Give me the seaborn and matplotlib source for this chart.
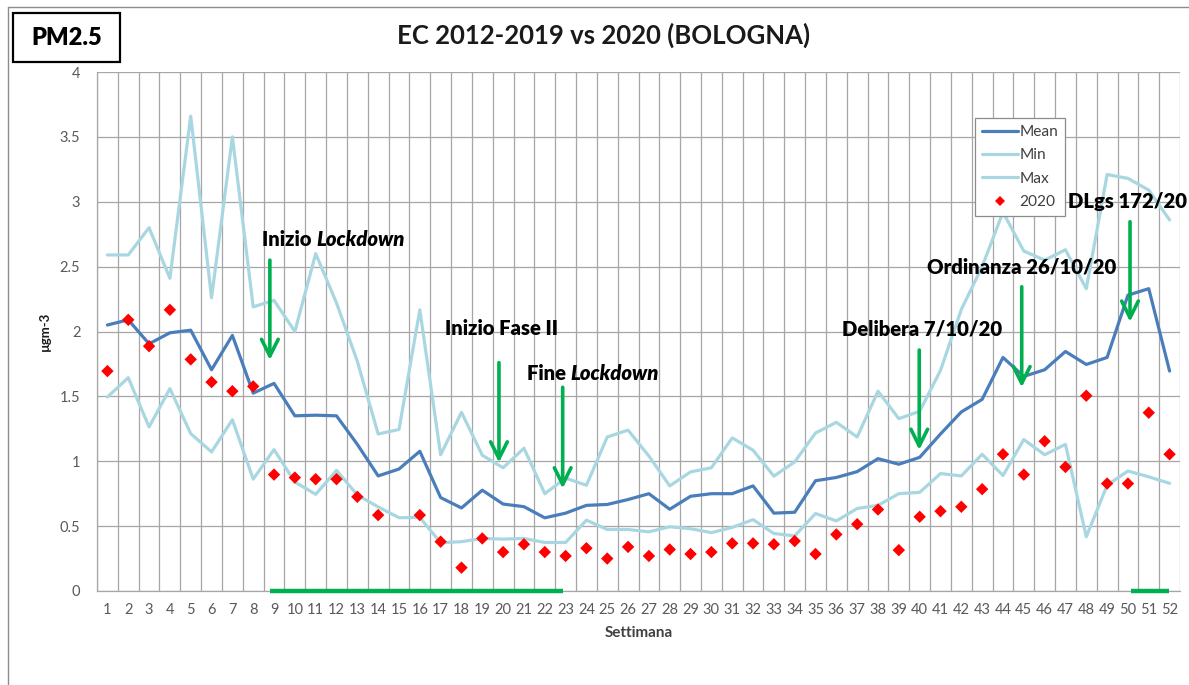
import numpy as np
import pandas as pd
import matplotlib
matplotlib.use("Agg")
import matplotlib.pyplot as plt
import seaborn as sns
from matplotlib.lines import Line2D
from matplotlib.patches import Rectangle

# ---------------- data ----------------
weeks = list(range(1, 53))
week_labels = [str(w) for w in weeks]

mean_vals = [2.05, 2.09, 1.905, 1.99, 2.01, 1.705, 1.97, 1.525, 1.60, 1.35,
             1.355, 1.35, 1.13, 0.887, 0.94, 1.077, 0.72, 0.64, 0.777, 0.67,
             0.65, 0.564, 0.60, 0.66, 0.667, 0.705, 0.75, 0.63, 0.73, 0.75,
             0.75, 0.81, 0.60, 0.607, 0.85, 0.875, 0.92, 1.02, 0.977, 1.03,
             1.21, 1.38, 1.477, 1.80, 1.654, 1.705, 1.846, 1.746, 1.80, 2.28,
             2.33, 1.695]

min_vals = [1.495, 1.644, 1.264, 1.56, 1.213, 1.072, 1.32, 0.862, 1.09, 0.84,
            0.745, 0.93, 0.74, 0.648, 0.565, 0.567, 0.372, 0.38, 0.405, 0.40,
            0.405, 0.374, 0.374, 0.546, 0.474, 0.474, 0.456, 0.495, 0.48, 0.45,
            0.49, 0.55, 0.443, 0.425, 0.597, 0.54, 0.636, 0.66, 0.75, 0.76,
            0.905, 0.887, 1.054, 0.89, 1.167, 1.05, 1.13, 0.418, 0.815, 0.925,
            0.88, 0.83]

max_vals = [2.59, 2.59, 2.80, 2.41, 3.66, 2.26, 3.50, 2.19, 2.24, 2.00,
            2.60, 2.22, 1.77, 1.21, 1.245, 2.167, 1.05, 1.377, 1.046, 0.95,
            1.10, 0.75, 0.87, 0.815, 1.187, 1.24, 1.04, 0.81, 0.918, 0.95,
            1.18, 1.085, 0.885, 0.995, 1.218, 1.30, 1.187, 1.54, 1.328, 1.385,
            1.70, 2.17, 2.50, 2.92, 2.62, 2.55, 2.63, 2.33, 3.21, 3.18,
            3.09, 2.86]

vals_2020 = [1.695, 2.09, 1.887, 2.167, 1.785, 1.61, 1.54, 1.577, 0.897, 0.874,
             0.862, 0.862, 0.726, 0.585, np.nan, 0.585, 0.38, 0.18, 0.405, 0.30,
             0.36, 0.30, 0.27, 0.33, 0.25, 0.34, 0.27, 0.32, 0.285, 0.30,
             0.367, 0.367, 0.36, 0.385, 0.285, 0.436, 0.515, 0.628, 0.315, 0.572,
             0.615, 0.649, 0.785, 1.054, 0.897, 1.154, 0.956, 1.505, 0.828, 0.828,
             1.374, 1.054]

series_names = ["Mean", "Min", "Max", "2020"]
ytick_vals = [0, 0.5, 1, 1.5, 2, 2.5, 3, 3.5, 4]
ytick_labels = ["0", "0.5", "1", "1.5", "2", "2.5", "3", "3.5", "4"]

title = "EC 2012-2019 vs 2020 (BOLOGNA)"
badge = "PM2.5"
xlabel = "Settimana"
ylabel = "µgm-3"

# events: (normal part, italic part, week of arrow)
event_text = [("Inizio ", "Lockdown"), ("Inizio Fase II", ""), ("Fine ", "Lockdown"),
              ("Delibera 7/10/20", ""), ("Ordinanza 26/10/20", ""), ("DLgs 172/20", "")]
event_week = [8.8, 19.8, 22.86, 39.98, 44.9, 50.1]
# lockdown periods (weeks) drawn on the x axis
periods = [(8.8, 22.86), (50.17, 51.99)]

# ---------------- layout / style (not data) ----------------
text_pos = [(8.42, 2.71), (17.21, 2.02), (21.13, 1.68), (36.25, 2.017), (40.33, 2.5), (47.1, 3.0)]
arrow_span = [(2.55, 1.78), (1.76, 0.99), (1.57, 0.79), (1.857, 1.087), (2.345, 1.57), (2.846, 2.075)]

c_mean = "#4A7EBB"
c_light = "#A9D7E1"
c_red = "#FF0000"
c_green = "#00B050"
c_grid = "#A6A6A6"
c_tick = "#595959"

sns.set_theme(style="white")
plt.rcParams["font.family"] = ["Lato", "DejaVu Sans"]

W, H = 1189, 685
fig = plt.figure(figsize=(W / 100, H / 100), dpi=100)
ax = fig.add_axes([97 / W, 1 - 591 / H, (1180 - 97) / W, (591 - 72) / H])

df = pd.DataFrame({"week": weeks, "Mean": mean_vals, "Min": min_vals,
                   "Max": max_vals, "2020": vals_2020})

sns.lineplot(data=df, x="week", y="Mean", color=c_mean, lw=2.3, ax=ax, legend=False, zorder=3)
sns.lineplot(data=df, x="week", y="Min", color=c_light, lw=2.3, ax=ax, legend=False, zorder=3)
sns.lineplot(data=df, x="week", y="Max", color=c_light, lw=2.3, ax=ax, legend=False, zorder=3)
sns.scatterplot(data=df, x="week", y="2020", color=c_red, marker="D", s=40,
                edgecolor="none", ax=ax, legend=False, zorder=4)

ax.set_xlim(0.5, 52.5)
ax.set_ylim(0, 4)
ax.set_xticks(weeks)
ax.set_xticklabels(week_labels)
ax.set_xticks(np.arange(0.5, 53, 1), minor=True)
ax.set_yticks(ytick_vals)
ax.set_yticklabels(ytick_labels)

ax.tick_params(axis="x", which="major", length=0, pad=9, labelsize=10.5, labelcolor=c_tick)
ax.tick_params(axis="x", which="minor", length=5, width=0.9, color=c_grid, direction="out")
ax.tick_params(axis="y", which="major", length=5, width=0.9, color=c_grid, direction="out",
               pad=7, labelsize=10.5, labelcolor=c_tick)

ax.grid(False)
ax.grid(True, which="minor", axis="x", color=c_grid, lw=0.9)
ax.grid(True, which="major", axis="y", color=c_grid, lw=0.9)
ax.set_axisbelow(True)
for s in ["top", "right"]:
    ax.spines[s].set_visible(False)
for s in ["left", "bottom"]:
    ax.spines[s].set_color(c_grid)
    ax.spines[s].set_linewidth(0.9)

ax.set_xlabel(xlabel, fontsize=11, fontweight="bold", color="#404040", labelpad=6)
ax.set_ylabel(ylabel, fontsize=9.5, fontweight="bold", color="#1a1a1a")
ax.yaxis.set_label_coords(-0.0425, 0.5)

# legend
handles = [Line2D([], [], color=c_mean, lw=2.3),
           Line2D([], [], color=c_light, lw=2.3),
           Line2D([], [], color=c_light, lw=2.3),
           Line2D([], [], color=c_red, marker="D", ls="none", markersize=5.5, markeredgewidth=0)]
leg = ax.legend(handles, series_names, loc="upper left",
                bbox_to_anchor=(975 / W, 1 - 118 / H), bbox_transform=fig.transFigure,
                frameon=True, fancybox=False, framealpha=1, edgecolor="#8c8c8c",
                fontsize=11.2, handlelength=2.3, handletextpad=0.1, labelspacing=0.6,
                borderpad=0.45, borderaxespad=0)
leg.get_frame().set_linewidth(0.9)
for t in leg.get_texts():
    t.set_color("#404040")

# events
for (p1, p2), wk, (tx, ty), (top, tip) in zip(event_text, event_week, text_pos, arrow_span):
    t1 = ax.text(tx, ty, p1, ha="left", va="center", fontsize=14.6, fontweight="heavy",
                 color="black", zorder=6, clip_on=False)
    if p2:
        ax.annotate(p2, xy=(1, 0.5), xycoords=t1, ha="left", va="center", fontsize=14.6,
                    fontweight="heavy", fontstyle="italic", color="black", zorder=6)
    ax.annotate("", xy=(wk, tip), xytext=(wk, top),
                arrowprops=dict(arrowstyle="->,head_length=1.2,head_width=0.6",
                                color=c_green, lw=2.6, shrinkA=0, shrinkB=0,
                                mutation_scale=10), zorder=6)

for a, b in periods:
    ax.plot([a, b], [0, 0], color=c_green, lw=3.2, solid_capstyle="butt",
            clip_on=False, zorder=6)

# title and badge
fig.text(604 / W, 1 - 35 / H, title, ha="center", va="center", fontsize=18.5,
         fontweight="bold", color="#1a1a1a")
fig.add_artist(Rectangle((13 / W, 1 - 62 / H), 107 / W, 49 / H, transform=fig.transFigure,
                         fill=False, ec="black", lw=1.6))
fig.text(67 / W, 1 - 38 / H, badge, ha="center", va="center", fontsize=17,
         fontweight="heavy", color="black")

# outer chart frame (left and top edges visible)
fig.add_artist(Line2D([8 / W, 8 / W], [0, 1 - 7 / H], transform=fig.transFigure,
                      color="#8c8c8c", lw=1))
fig.add_artist(Line2D([8 / W, 1], [1 - 7 / H, 1 - 7 / H], transform=fig.transFigure,
                      color="#8c8c8c", lw=1))

fig.savefig("out.png", dpi=100)
